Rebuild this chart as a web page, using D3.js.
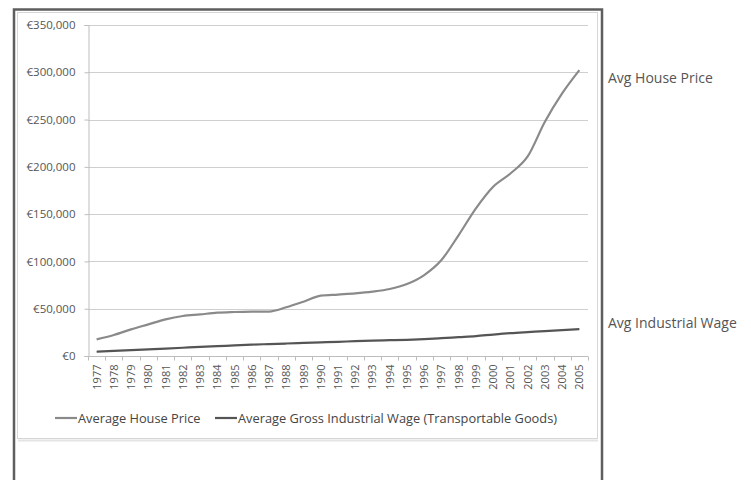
<!DOCTYPE html>
<html>
<head>
<meta charset="utf-8">
<script src="https://cdn.jsdelivr.net/npm/d3@7"></script>
<style>
  html, body { margin: 0; padding: 0; background: #fff; }
  svg { display: block; }
</style>
</head>
<body>
<svg id="chart" width="751" height="480"></svg>
<script>
// Years on the category axis
const years = d3.range(1977, 2006).map(String);

// Average house price (€)
const housePrice = [
  17600, 22200, 28200, 33500, 38800, 42300, 44000, 45800, 46500, 46900,
  47000, 51500, 57400, 63800, 65000, 66200, 68000, 70800, 76100, 85600,
  101500, 127900, 156100, 179000, 193000, 211000, 247700, 277700, 302300
];

// Average gross industrial wage, transportable goods (€)
const industrialWage = [
  4500, 5400, 6200, 7000, 7800, 8700, 9600, 10400, 11200, 12000,
  12600, 13200, 13800, 14400, 15000, 15700, 16300, 16700, 17100, 17800,
  18800, 19900, 21000, 22700, 24200, 25300, 26300, 27400, 28400
];

const yTicks = [0, 50000, 100000, 150000, 200000, 250000, 300000, 350000];
const seriesNames = ["Average House Price", "Average Gross Industrial Wage (Transportable Goods)"];
const sideLabels = ["Avg House Price", "Avg Industrial Wage"];

const font = "'Open Sans', 'DejaVu Sans', sans-serif";
const houseColor = "#8a8a8a";
const wageColor = "#555555";

const svg = d3.select("#chart");

// Outer frame
svg.append("rect")
  .attr("x", 14).attr("y", 9.5).attr("width", 588).attr("height", 480)
  .attr("fill", "none").attr("stroke", "#5e5e5e").attr("stroke-width", 2.5);

// Chart area border
svg.append("rect")
  .attr("x", 17.5).attr("y", 12.5).attr("width", 580).attr("height", 426)
  .attr("fill", "#fff").attr("stroke", "#d6d6d6").attr("stroke-width", 1);
svg.append("line")
  .attr("x1", 18).attr("x2", 598).attr("y1", 440.5).attr("y2", 440.5)
  .attr("stroke", "#e4e4e4").attr("stroke-width", 2);

const plot = { left: 88, right: 588, top: 25, bottom: 356 };

const x = d3.scaleBand().domain(years).range([plot.left, plot.right]);
const y = d3.scaleLinear().domain([0, 350000]).range([plot.bottom, plot.top]);

// Horizontal gridlines
svg.append("g")
  .selectAll("line")
  .data(yTicks.filter(d => d > 0))
  .join("line")
  .attr("x1", plot.left).attr("x2", plot.right)
  .attr("y1", d => Math.round(y(d)) + 0.5).attr("y2", d => Math.round(y(d)) + 0.5)
  .attr("stroke", "#cfcfcf").attr("stroke-width", 1);

// Y axis
const yAxis = svg.append("g")
  .attr("transform", `translate(${plot.left + 0.5},0)`)
  .call(d3.axisLeft(y).tickValues(yTicks).tickSize(4).tickPadding(9)
    .tickFormat(d => "€" + d3.format(",")(d)));
yAxis.select(".domain").attr("stroke", "#bdbdbd");
yAxis.selectAll(".tick line").attr("stroke", "#bdbdbd");
yAxis.selectAll(".tick text")
  .attr("font-family", font).attr("font-size", 11.5).attr("fill", "#555");

// X axis: ticks fall between categories
const xAxisG = svg.append("g")
  .attr("transform", `translate(0,${plot.bottom + 0.5})`);
xAxisG.append("line")
  .attr("x1", plot.left).attr("x2", plot.right)
  .attr("stroke", "#bdbdbd");
xAxisG.selectAll("line.tk")
  .data(years.concat(["end"]))
  .join("line").attr("class", "tk")
  .attr("x1", (d, i) => Math.round(plot.left + i * x.bandwidth()) + 0.5)
  .attr("x2", (d, i) => Math.round(plot.left + i * x.bandwidth()) + 0.5)
  .attr("y1", 0).attr("y2", 4)
  .attr("stroke", "#bdbdbd");
xAxisG.selectAll("text")
  .data(years)
  .join("text")
  .attr("transform", d => `translate(${x(d) + x.bandwidth() / 2 + 4},8) rotate(-90)`)
  .attr("text-anchor", "end")
  .attr("font-family", font).attr("font-size", 11).attr("fill", "#555")
  .text(d => d);

// Series lines
const line = d3.line()
  .x((d, i) => x(years[i]) + x.bandwidth() / 2)
  .y(d => y(d))
  .curve(d3.curveMonotoneX);

svg.append("path")
  .datum(housePrice)
  .attr("d", line)
  .attr("fill", "none").attr("stroke", houseColor).attr("stroke-width", 2.2);

svg.append("path")
  .datum(industrialWage)
  .attr("d", line)
  .attr("fill", "none").attr("stroke", wageColor).attr("stroke-width", 2.2);

// Legend
const legendY = 418;
const legend = [
  { name: seriesNames[0], color: houseColor, x: 55 },
  { name: seriesNames[1], color: wageColor, x: 215 }
];
legend.forEach(l => {
  svg.append("line")
    .attr("x1", l.x).attr("x2", l.x + 22)
    .attr("y1", legendY).attr("y2", legendY)
    .attr("stroke", l.color).attr("stroke-width", 2.2);
  svg.append("text")
    .attr("x", l.x + 23).attr("y", legendY + 4.5)
    .attr("font-family", font).attr("font-size", 12.8).attr("fill", "#444")
    .text(l.name);
});

// Side annotations
svg.append("text")
  .attr("x", 608).attr("y", 83)
  .attr("font-family", font).attr("font-size", 14).attr("fill", "#555")
  .text(sideLabels[0]);
svg.append("text")
  .attr("x", 608).attr("y", 328)
  .attr("font-family", font).attr("font-size", 14).attr("fill", "#555")
  .text(sideLabels[1]);
</script>
</body>
</html>
